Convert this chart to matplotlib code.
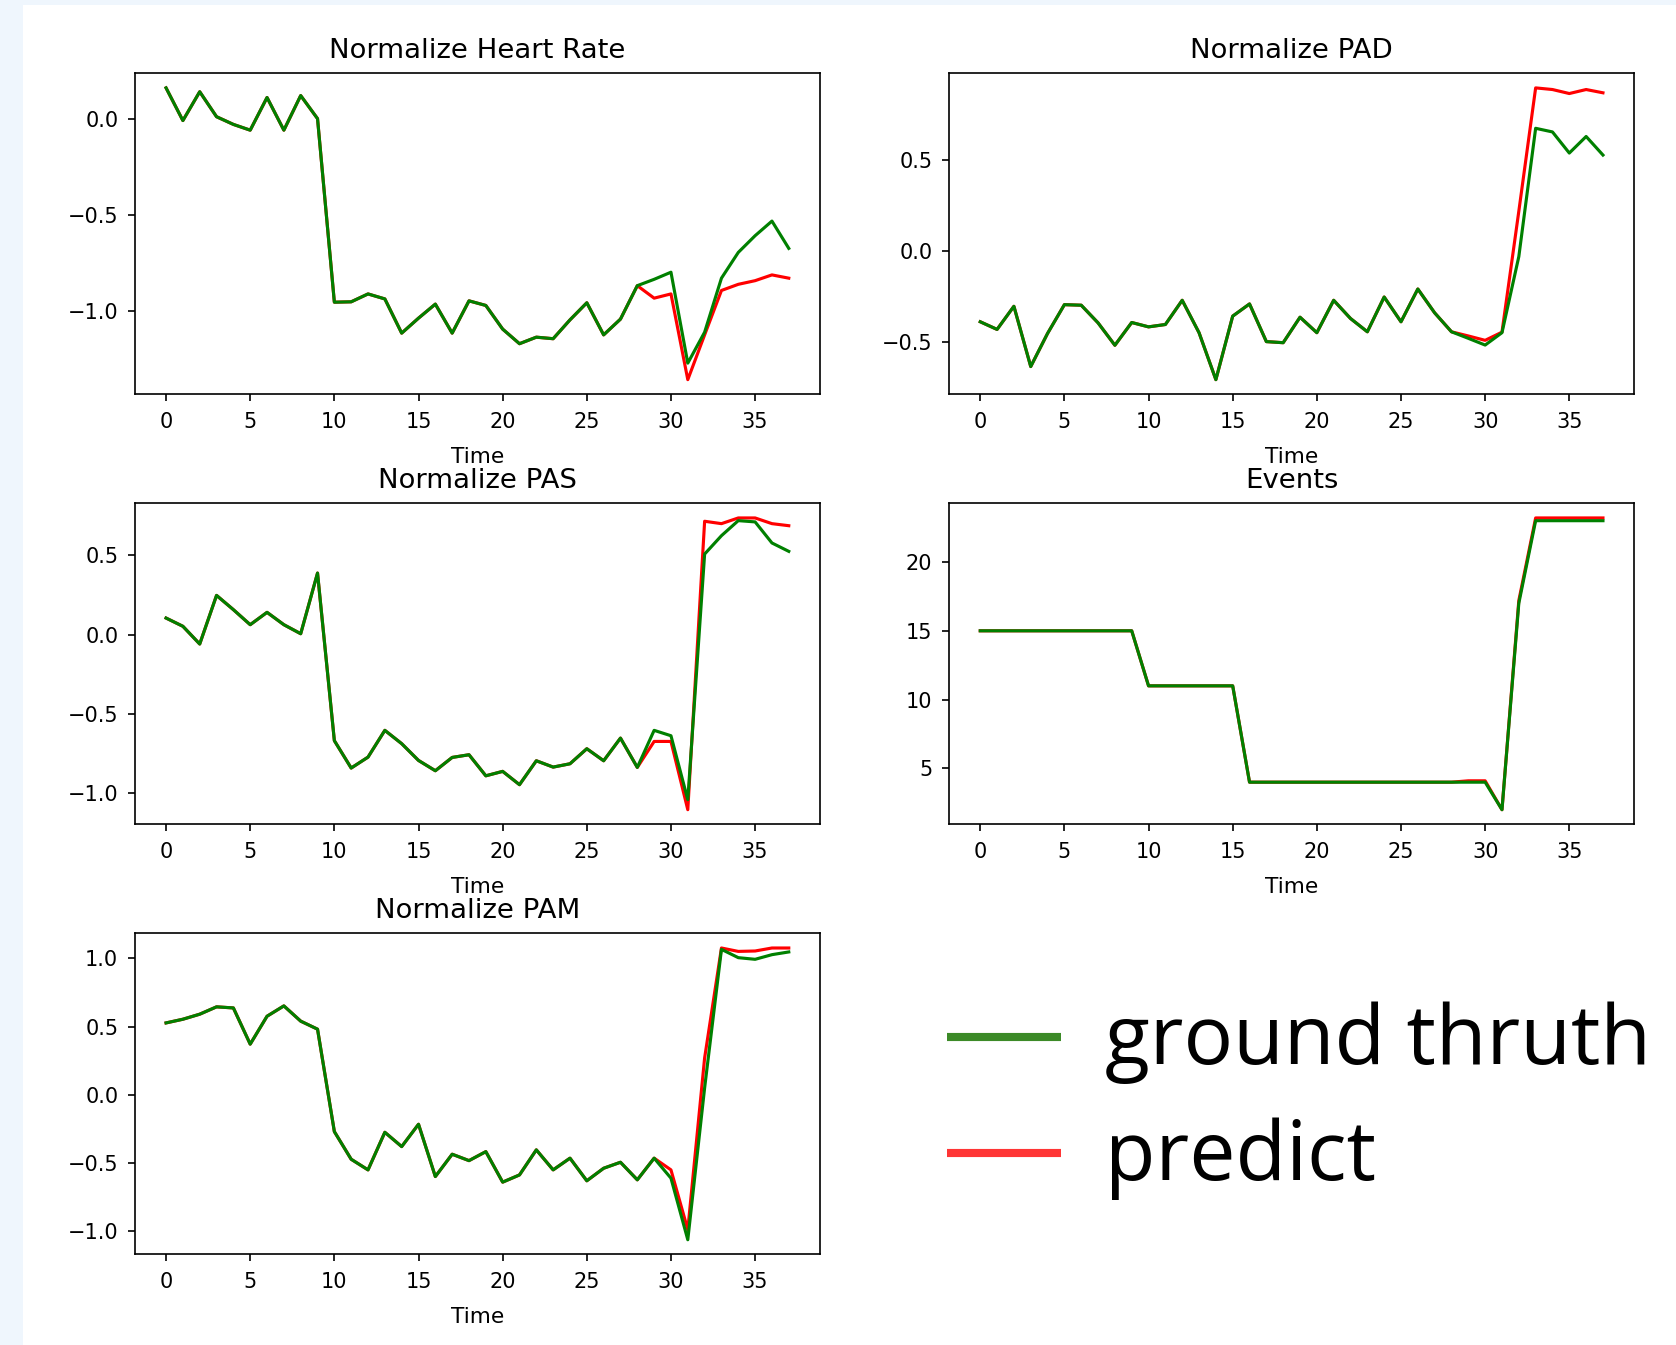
import matplotlib
matplotlib.use("Agg")
import matplotlib.pyplot as plt
from matplotlib.patches import Rectangle
from matplotlib.lines import Line2D
from matplotlib.ticker import MultipleLocator

# ---------------- data ----------------
time = list(range(38))

hr_true = [0.16, -0.01, 0.14, 0.01, -0.03, -0.06, 0.11, -0.06, 0.12, 0.00,
           -0.955, -0.953, -0.912, -0.938, -1.116, -1.038, -0.965, -1.116, -0.948, -0.972,
           -1.095, -1.171, -1.137, -1.145, -1.047, -0.958, -1.125, -1.043, -0.869, -0.836,
           -0.799, -1.272, -1.111, -0.830, -0.696, -0.609, -0.533, -0.675]
hr_pred = [0.16, -0.01, 0.14, 0.01, -0.03, -0.06, 0.11, -0.06, 0.12, 0.00,
           -0.955, -0.953, -0.912, -0.938, -1.116, -1.038, -0.965, -1.116, -0.948, -0.972,
           -1.095, -1.171, -1.137, -1.145, -1.047, -0.958, -1.125, -1.043, -0.869, -0.934,
           -0.912, -1.358, -1.125, -0.894, -0.862, -0.843, -0.813, -0.830]

pad_true = [-0.387, -0.429, -0.302, -0.633, -0.451, -0.293, -0.296, -0.393, -0.516, -0.391,
            -0.415, -0.402, -0.269, -0.447, -0.705, -0.356, -0.289, -0.496, -0.502, -0.362,
            -0.447, -0.269, -0.369, -0.442, -0.251, -0.387, -0.207, -0.338, -0.442, -0.478,
            -0.515, -0.447, -0.029, 0.676, 0.656, 0.540, 0.631, 0.529]
pad_pred = [-0.387, -0.429, -0.302, -0.633, -0.451, -0.293, -0.296, -0.393, -0.516, -0.391,
            -0.415, -0.402, -0.269, -0.447, -0.705, -0.356, -0.289, -0.496, -0.502, -0.362,
            -0.447, -0.269, -0.369, -0.442, -0.251, -0.387, -0.207, -0.338, -0.442, -0.465,
            -0.489, -0.444, 0.220, 0.898, 0.889, 0.867, 0.889, 0.871]

pas_true = [0.105, 0.053, -0.059, 0.248, 0.158, 0.063, 0.141, 0.063, 0.006, 0.389,
            -0.669, -0.842, -0.773, -0.604, -0.688, -0.794, -0.859, -0.775, -0.758, -0.891,
            -0.863, -0.947, -0.796, -0.836, -0.815, -0.720, -0.796, -0.653, -0.838, -0.604,
            -0.638, -1.042, 0.509, 0.625, 0.720, 0.712, 0.579, 0.526]
pas_pred = [0.105, 0.053, -0.059, 0.248, 0.158, 0.063, 0.141, 0.063, 0.006, 0.389,
            -0.669, -0.842, -0.773, -0.604, -0.688, -0.794, -0.859, -0.775, -0.758, -0.891,
            -0.863, -0.947, -0.796, -0.836, -0.815, -0.720, -0.796, -0.653, -0.838, -0.674,
            -0.674, -1.105, 0.716, 0.701, 0.737, 0.737, 0.701, 0.688]

ev_true = [15, 15, 15, 15, 15, 15, 15, 15, 15, 15,
           11, 11, 11, 11, 11, 11, 4, 4, 4, 4,
           4, 4, 4, 4, 4, 4, 4, 4, 4, 4,
           4, 2, 17, 23, 23, 23, 23, 23]
ev_pred = [15, 15, 15, 15, 15, 15, 15, 15, 15, 15,
           11, 11, 11, 11, 11, 11, 4, 4, 4, 4,
           4, 4, 4, 4, 4, 4, 4, 4, 4, 4.1,
           4.1, 2, 17.2, 23.2, 23.2, 23.2, 23.2, 23.2]

pam_true = [0.527, 0.554, 0.591, 0.645, 0.637, 0.371, 0.576, 0.652, 0.540, 0.481,
            -0.271, -0.474, -0.552, -0.276, -0.381, -0.217, -0.601, -0.437, -0.484, -0.418,
            -0.642, -0.589, -0.405, -0.552, -0.466, -0.632, -0.540, -0.496, -0.625, -0.466,
            -0.613, -1.065, 0.05, 1.067, 1.006, 0.994, 1.028, 1.048]
pam_pred = [0.527, 0.554, 0.591, 0.645, 0.637, 0.371, 0.576, 0.652, 0.540, 0.481,
            -0.271, -0.474, -0.552, -0.276, -0.381, -0.217, -0.601, -0.437, -0.484, -0.418,
            -0.642, -0.589, -0.405, -0.552, -0.466, -0.632, -0.540, -0.496, -0.625, -0.466,
            -0.552, -0.991, 0.27, 1.077, 1.052, 1.055, 1.077, 1.077]

titles = ["Normalize Heart Rate", "Normalize PAD", "Normalize PAS", "Events", "Normalize PAM"]
series_true = [hr_true, pad_true, pas_true, ev_true, pam_true]
series_pred = [hr_pred, pad_pred, pas_pred, ev_pred, pam_pred]
legend_labels = ["ground thruth", "predict"]

# ---------------- figure ----------------
W, H, DPI = 1676, 1345, 150
fig, axes = plt.subplots(3, 2, figsize=(W / DPI, H / DPI), dpi=DPI)
fig.subplots_adjust(left=0.0805, right=0.975, top=0.9455, bottom=0.0674,
                    wspace=0.1886, hspace=0.340)

# light blue strips at left and top edges
fig.add_artist(Rectangle((0, 0), 23 / W, 1, transform=fig.transFigure,
                         facecolor="#eff6fd", edgecolor="none", zorder=0))
fig.add_artist(Rectangle((0, 1 - 5 / H), 1, 5 / H, transform=fig.transFigure,
                         facecolor="#eff6fd", edgecolor="none", zorder=0))

flat = [axes[0, 0], axes[0, 1], axes[1, 0], axes[1, 1], axes[2, 0]]
for ax, title, yt, yp in zip(flat, titles, series_true, series_pred):
    ax.plot(time, yp, color="red", linewidth=1.5)
    ax.plot(time, yt, color="green", linewidth=1.5)
    ax.set_title(title, fontsize=13.2, pad=7.5)
    ax.set_xlabel("Time", fontsize=10.4, labelpad=7)
    ax.tick_params(axis="x", labelsize=10, pad=5)
    ax.tick_params(axis="y", labelsize=10, pad=4.5)

axes[0, 0].yaxis.set_major_locator(MultipleLocator(0.5))
axes[2, 1].axis("off")

# legend drawn as large text at bottom right
fx = lambda px: px / W
fy = lambda py: 1 - py / H
leg_colors = ["#3c8a27", "#ff3535"]
rows_y = [1037, 1153]
for lab, col, ly in zip(legend_labels, leg_colors, rows_y):
    fig.add_artist(Line2D([fx(947), fx(1061)], [fy(ly), fy(ly)],
                          transform=fig.transFigure, color=col, linewidth=3.9,
                          solid_capstyle="butt"))
    fig.text(fx(1105), fy(ly + 27), lab, fontsize=39.6, family="Open Sans",
             ha="left", va="baseline", color="black")

fig.savefig("out.png", dpi=DPI)
